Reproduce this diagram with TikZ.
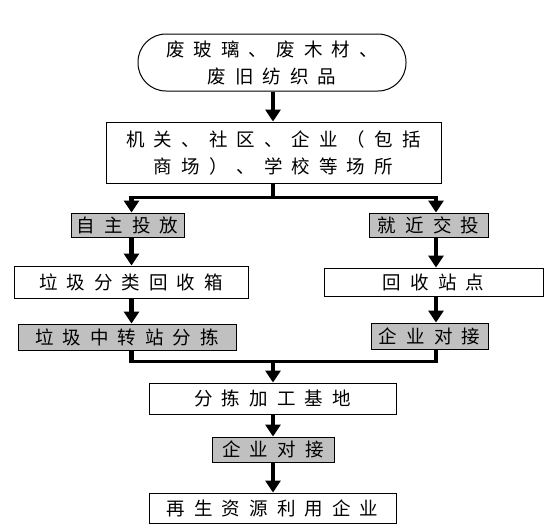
\documentclass[tikz,border=0pt]{standalone}
\usepackage{fontspec}
\newfontfamily\cjk[LetterSpace=49]{Noto Sans CJK SC}
\usetikzlibrary{arrows.meta}
\definecolor{boxgray}{RGB}{192,192,192}
\tikzset{font=\cjk\fontsize{18.5}{27}\selectfont}
\tikzset{plainbox/.style={draw, line width=1pt, inner sep=0pt, align=center},
  graybox/.style={plainbox, fill=boxgray},
  stem/.style={line width=4.5pt, -{Triangle[width=15pt,length=12pt]}},
  bar/.style={line width=4.5pt, shorten >=-1.5pt},
  rail/.style={line width=3pt, shorten <=-2.25pt, shorten >=-2.25pt}}

\begin{document}
\begin{tikzpicture}[x=1pt,y=-1pt]
  \useasboundingbox (0,0) rectangle (550,528);
  \coordinate (colL) at (131.5,0);
  \coordinate (colM) at (273,0);
  \coordinate (colR) at (436,0);
  \coordinate (jtop) at (273,197.5);
  \coordinate (jbot) at (273,361.5);

  \node[plainbox, rounded corners=28pt, minimum width=268pt, minimum height=57pt]
    (src) at (272,62.5) {废玻璃、废木材、\\废旧纺织品};
  \node[plainbox, minimum width=335pt, minimum height=61pt]
    (place) at (273.5,152.5) {机关、社区、企业（包括\\商场）、学校等场所};
  \node[graybox, minimum width=113pt, minimum height=24pt]
    (selfput) at (127.5,225) {自主投放};
  \node[graybox, minimum width=119pt, minimum height=24pt]
    (nearby) at (428.5,225) {就近交投};
  \node[plainbox, minimum width=234pt, minimum height=32pt]
    (bin) at (131,282) {垃圾分类回收箱};
  \node[plainbox, minimum width=219pt, minimum height=28pt]
    (station) at (433.5,282) {回收站点};
  \node[graybox, minimum width=218pt, minimum height=26pt]
    (transfer) at (127,337) {垃圾中转站分拣};
  \node[graybox, minimum width=117pt, minimum height=26pt]
    (dockR) at (429.5,336) {企业对接};
  \node[plainbox, minimum width=247pt, minimum height=31pt]
    (base) at (272.5,398.5) {分拣加工基地};
  \node[graybox, minimum width=122pt, minimum height=25pt]
    (dockC) at (273,449.5) {企业对接};
  \node[plainbox, minimum width=247pt, minimum height=30pt]
    (reuse) at (272.5,508) {再生资源利用企业};

  % top part
  \draw[stem] (src.south -| colM) -- (place.north -| colM);
  \draw[line width=4.5pt] (place.south -| colM) -- (jtop);
  \draw[rail] (jtop -| colL) -- (jtop -| colR);
  \draw[stem] (jtop -| colL) -- (selfput.north -| colL);
  \draw[stem] (jtop -| colR) -- (nearby.north -| colR);

  % two columns
  \draw[stem] (selfput.south -| colL) -- (bin.north -| colL);
  \draw[stem] (bin.south -| colL) -- (transfer.north -| colL);
  \draw[stem] (nearby.south -| colR) -- (station.north -| colR);
  \draw[stem] (station.south -| colR) -- (dockR.north -| colR);

  % join and bottom part
  \draw[bar] (transfer.south -| colL) -- (jbot -| colL);
  \draw[bar] (dockR.south -| colR) -- (jbot -| colR);
  \draw[rail] (jbot -| colL) -- (jbot -| colR);
  \draw[stem] (jbot) -- (base.north -| colM);
  \draw[stem] (base.south -| colM) -- (dockC.north -| colM);
  \draw[stem] (dockC.south -| colM) -- (reuse.north -| colM);
\end{tikzpicture}
\end{document}
